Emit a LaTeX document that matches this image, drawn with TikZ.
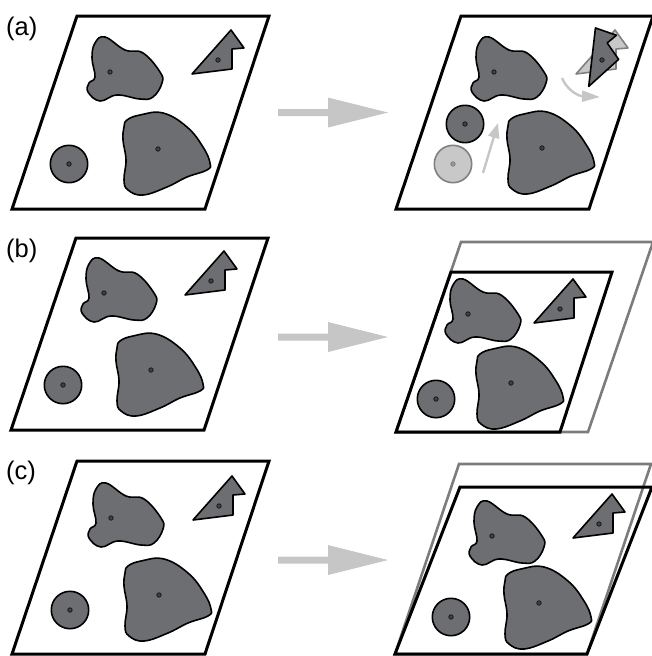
\documentclass[tikz,border=0pt]{standalone}
\usepackage{fontspec}
\setmainfont{Liberation Sans}
\usetikzlibrary{arrows.meta}
\definecolor{shapegray}{HTML}{6D6E71}
\definecolor{arrowgray}{HTML}{C6C6C6}
\definecolor{framegray}{HTML}{7C7C7C}
\definecolor{ghostfill}{HTML}{C8C8C8}
\definecolor{ghostline}{HTML}{808080}
\tikzset{
  frame/.style={draw=black, line width=3pt, line join=miter},
  oldframe/.style={draw=framegray, line width=2.6pt, line join=miter},
  shp/.style={draw=black, line width=1.6pt, fill=shapegray, line join=round},
  ghost/.style={draw=ghostline, line width=1.6pt, fill=ghostfill, line join=round},
  dotst/.style={draw=black!90, fill=shapegray!60!black, line width=0.8pt},
  ghostdot/.style={draw=ghostline, fill=ghostfill!75!black, line width=0.8pt},
  bigarrow/.style={fill=arrowgray},
  movearrow/.style={draw=arrowgray, line width=2.4pt, -{Triangle[length=15pt,width=11pt]}},
  lbl/.style={anchor=base west, inner sep=0pt, font=\fontsize{25.5}{30}\selectfont}
}
\newcommand\mkblobA[3]{%
  \draw[#3, shift={(#1,#2)}] plot[smooth cycle, tension=0.7] coordinates {(-5,-35) (15,-22) (33,-19) (50,0) (52,11) (43,25) (30,27) (7,23) (-10,29) (-22,20) (-21,11) (-15,5) (-18,-14) (-15,-29)};
  \draw[dotst] (#1,#2) circle (2.2);}
\newcommand\mkblobB[3]{%
  \draw[#3, shift={(#1,#2)}] plot[smooth cycle, tension=0.7] coordinates {(-31,-29) (-18,-34) (5,-36) (29,-22) (45,-2) (52,14) (49,21) (29,28) (9,38) (-15,46) (-30,41) (-34,31) (-32,11) (-35,-9) (-34,-22)};
  \draw[dotst] (#1,#2) circle (2.2);}
\newcommand\mktri[4]{%
  \draw[#4, shift={(#1,#2)}, rotate=#3] (-26,14) -- (13,-30) -- (26,-12) -- (14,-11) -- (14,9) -- cycle;}
\newcommand\mkdisc[3]{%
  \draw[#3] (#1,#2) circle (18.7);}
\newcommand\mkbigarrow[1]{%
  \fill[bigarrow, shift={(0,#1)}] (278,-3.5) -- (328,-3.5) -- (328,-15) -- (388,0) -- (328,15) -- (328,3.5) -- (278,3.5) -- cycle;}
\begin{document}
\begin{tikzpicture}[x=1pt, y=-1pt]
\useasboundingbox (0,0) rectangle (651,656);
% labels
\node[lbl] (la) at (6,35) {(a)};
\node[lbl] (lb) at (6,257) {(b)};
\node[lbl] (lc) at (6,479) {(c)};
% big arrows
\mkbigarrow{112.5}
\mkbigarrow{337}
\mkbigarrow{560}
% ---------- panel (a) left
\draw[frame] (77,16) -- (269,16) -- (205,209) -- (12,209) -- cycle;
\mkblobA{110}{72}{shp}
\mkblobB{158}{149}{shp}
\mktri{218}{60}{0}{shp}\draw[dotst] (218,60) circle (2.2);
\mkdisc{69}{164}{shp}\draw[dotst] (69,164) circle (2.2);
% ---------- panel (a) right
\draw[frame] (461,16) -- (653,16) -- (589,209) -- (396,209) -- cycle;
\mkblobA{494}{72}{shp}
\mkblobB{542}{148}{shp}
\mkdisc{453}{164}{ghost}\draw[ghostdot] (453,164) circle (2.2);
\mkdisc{465}{124}{shp}\draw[dotst] (465,124) circle (2.2);
\coordinate (m1) at (483,173);
\coordinate (m2) at (498,123);
\draw[movearrow] (m1) -- (m2);
\mktri{602}{60}{0}{ghost}
\mktri{602}{60}{35}{shp}\draw[dotst] (602,60) circle (2.2);
\coordinate (r1) at (562,78);
\coordinate (r2) at (600,97);
\draw[movearrow, -{Triangle[length=18pt,width=11pt]}] (r1) .. controls (567,90) and (578,96) .. (r2);
% ---------- panel (b) left
\draw[frame] (76,238) -- (268,238) -- (204,430) -- (11,430) -- cycle;
\mkblobA{104}{293}{shp}
\mkblobB{151}{370}{shp}
\mktri{211}{281}{0}{shp}\draw[dotst] (211,281) circle (2.2);
\mkdisc{63}{385}{shp}\draw[dotst] (63,385) circle (2.2);
% ---------- panel (b) right
\draw[oldframe] (461,242) -- (653,242) -- (588,432) -- (396,432) -- cycle;
\draw[frame] (451,272) -- (612,272) -- (560,432) -- (396,432) -- cycle;
\mkblobA{468}{314}{shp}
\mkblobB{511}{383}{shp}
\mktri{560}{309}{0}{shp}\draw[dotst] (560,309) circle (2.2);
\mkdisc{436}{399}{shp}\draw[dotst] (436,399) circle (2.2);
% ---------- panel (c) left
\draw[frame] (77,461) -- (269,461) -- (205,654) -- (12,654) -- cycle;
\mkblobA{111}{518}{shp}
\mkblobB{159}{595}{shp}
\mktri{219}{506}{0}{shp}\draw[dotst] (219,506) circle (2.2);
\mkdisc{70}{610}{shp}\draw[dotst] (70,610) circle (2.2);
% ---------- panel (c) right
\draw[oldframe] (459,464) -- (651,464) -- (587,654) -- (395,654) -- cycle;
\draw[frame] (460,487) -- (652,487) -- (587,654) -- (395,654) -- cycle;
\mkblobA{492}{536}{shp}
\mkblobB{539}{603}{shp}
\mktri{599}{524}{0}{shp}\draw[dotst] (599,524) circle (2.2);
\mkdisc{451}{617}{shp}\draw[dotst] (451,617) circle (2.2);
\end{tikzpicture}
\end{document}
